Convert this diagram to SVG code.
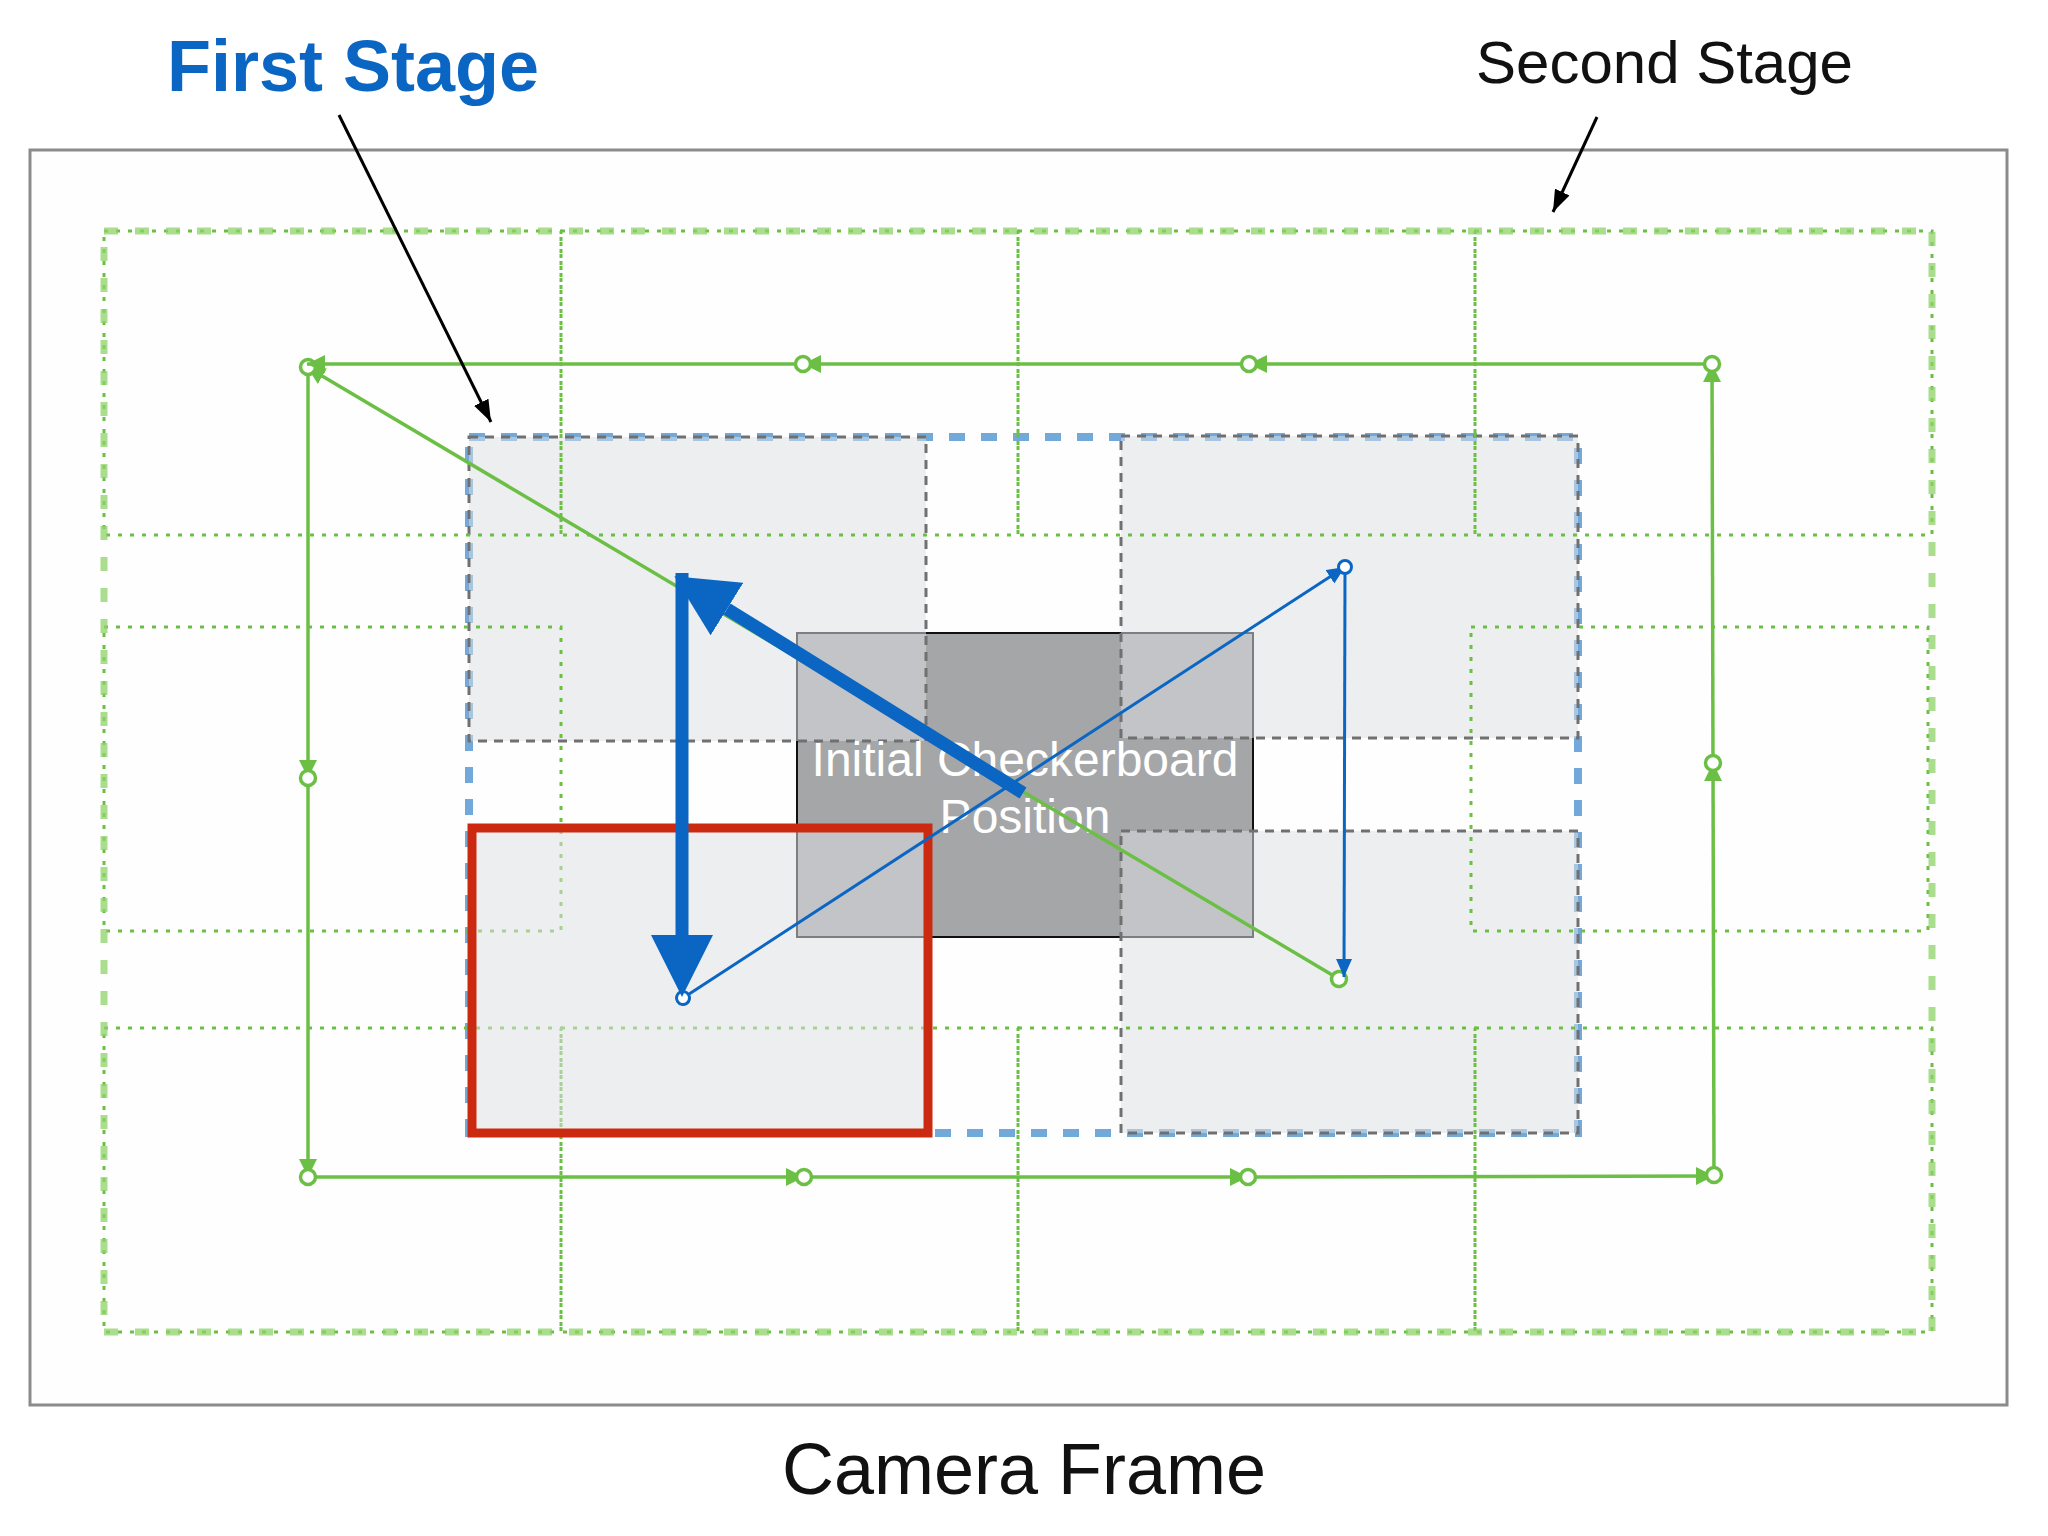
<svg xmlns="http://www.w3.org/2000/svg" width="2048" height="1536" viewBox="0 0 2048 1536">
<style>
.lbl{font-family:"Liberation Sans",Arial,sans-serif}
.grid{fill:none;stroke:#6cbf45;stroke-width:3;stroke-dasharray:4 8}
.fs{fill:#dddee2;fill-opacity:0.53;stroke:#707070;stroke-width:3;stroke-dasharray:9 7}
.gline{stroke:#6cbf45;stroke-width:3.5;fill:none;marker-start:url(#gCircle);marker-end:url(#gArrow)}
.bline{stroke:#0b66c3;stroke-width:3;fill:none;marker-start:url(#bCircle);marker-end:url(#bArrow)}
.thick{stroke:#0b66c3;stroke-width:13;fill:none;marker-end:url(#bigArrow)}
.ptr{stroke:#000;stroke-width:3;fill:none;marker-end:url(#kArrow)}
</style>
<defs>
<marker id="gArrow" markerUnits="userSpaceOnUse" viewBox="0 0 18 18" refX="18" refY="9" markerWidth="18" markerHeight="18" orient="auto"><path d="M0,0 L18,9 L0,18 z" fill="#6cbf45"/></marker>
<marker id="gCircle" markerUnits="userSpaceOnUse" viewBox="0 0 22 22" refX="11" refY="11" markerWidth="22" markerHeight="22" orient="auto"><circle cx="11" cy="11" r="7.5" fill="#fff" stroke="#6cbf45" stroke-width="3.5"/></marker>
<marker id="bArrow" markerUnits="userSpaceOnUse" viewBox="0 0 18 16" refX="18" refY="8" markerWidth="18" markerHeight="16" orient="auto"><path d="M0,0 L18,8 L0,16 z" fill="#0b66c3"/></marker>
<marker id="bCircle" markerUnits="userSpaceOnUse" viewBox="0 0 20 20" refX="10" refY="10" markerWidth="20" markerHeight="20" orient="auto"><circle cx="10" cy="10" r="6.5" fill="#fff" stroke="#0b66c3" stroke-width="3"/></marker>
<marker id="bigArrow" markerUnits="userSpaceOnUse" viewBox="0 0 62 62" refX="0" refY="31" markerWidth="62" markerHeight="62" orient="auto"><path d="M0,0 L62,31 L0,62 z" fill="#0b66c3"/></marker>
<marker id="kArrow" markerUnits="userSpaceOnUse" viewBox="0 0 22 16" refX="22" refY="8" markerWidth="22" markerHeight="16" orient="auto"><path d="M0,0 L22,8 L0,16 z" fill="#000"/></marker>
</defs>
<rect width="2048" height="1536" fill="#fff"/>
<g id="camera-frame">
<rect x="30" y="150" width="1977" height="1255" fill="#fefefe" stroke="#8b8b8b" stroke-width="3"/>
</g>
<g id="checkerboard">
<rect x="797" y="633" width="456" height="304" fill="#a5a6a8" stroke="#111" stroke-width="2"/>
</g>
<g id="first-stage-border">
<rect x="469" y="437" width="1109" height="696" fill="none" stroke="#72a8da" stroke-width="8" stroke-dasharray="16 16"/>
</g>
<g id="first-stage-rects">
<rect class="fs" x="469" y="437" width="457" height="304"/>
<rect class="fs" x="1121" y="436" width="457" height="302"/>
<rect class="fs" x="1121" y="831" width="457" height="302"/>
</g>
<g id="second-stage-grid">
<rect class="grid" x="104" y="231" width="457" height="304"/>
<rect class="grid" x="561" y="231" width="457" height="304"/>
<rect class="grid" x="1018" y="231" width="457" height="304"/>
<rect class="grid" x="1475" y="231" width="457" height="304"/>
<rect class="grid" x="104" y="627" width="457" height="304"/>
<rect class="grid" x="1471" y="627" width="457" height="304"/>
<rect class="grid" x="104" y="1028" width="457" height="304"/>
<rect class="grid" x="561" y="1028" width="457" height="304"/>
<rect class="grid" x="1018" y="1028" width="457" height="304"/>
<rect class="grid" x="1475" y="1028" width="457" height="304"/>
<rect x="104" y="231" width="1828" height="1101" fill="none" stroke="#8fd16a" stroke-opacity="0.75" stroke-width="7" stroke-dasharray="14 17"/>
</g>
<g id="current-position">
<rect x="472" y="828" width="456" height="305" fill="#dddee2" fill-opacity="0.53" stroke="#cc2a10" stroke-width="9"/>
</g>
<g id="checkerboard-label">
<text class="lbl" x="1025" y="776" font-size="48" fill="#fff" text-anchor="middle">Initial Checkerboard</text>
<text class="lbl" x="1025" y="833" font-size="48" fill="#fff" text-anchor="middle">Position</text>
</g>
<g id="connectors">
<line class="gline" x1="1339" y1="979" x2="307" y2="367"/>
<line class="gline" x1="308" y1="367" x2="308" y2="778"/>
<line class="gline" x1="308" y1="778" x2="308" y2="1177"/>
<line class="gline" x1="308" y1="1177" x2="804" y2="1177"/>
<line class="gline" x1="804" y1="1177" x2="1248" y2="1177"/>
<line class="gline" x1="1248" y1="1177" x2="1714" y2="1176"/>
<line class="gline" x1="1714" y1="1175" x2="1713" y2="763"/>
<line class="gline" x1="1713" y1="763" x2="1712" y2="364"/>
<line class="gline" x1="1712" y1="364" x2="1249" y2="364"/>
<line class="gline" x1="1249" y1="364" x2="803" y2="364"/>
<line class="gline" x1="803" y1="364" x2="307" y2="364"/>
<line class="bline" x1="683" y1="998" x2="1345" y2="567"/>
<line class="bline" x1="1345" y1="567" x2="1344" y2="977"/>
<line class="thick" x1="1023" y1="793" x2="727" y2="609"/>
<line class="thick" x1="682" y1="573" x2="682" y2="935"/>
<line class="ptr" x1="339" y1="115" x2="491" y2="422"/>
<line class="ptr" x1="1597" y1="117" x2="1553" y2="212"/>
</g>
<g id="titles">
<text class="lbl" x="167" y="91" font-size="72" font-weight="bold" fill="#0a66c2">First Stage</text>
<text class="lbl" x="1476" y="83" font-size="60" fill="#111">Second Stage</text>
<text class="lbl" x="1024" y="1494" font-size="72" fill="#111" text-anchor="middle">Camera Frame</text>
</g>
</svg>
